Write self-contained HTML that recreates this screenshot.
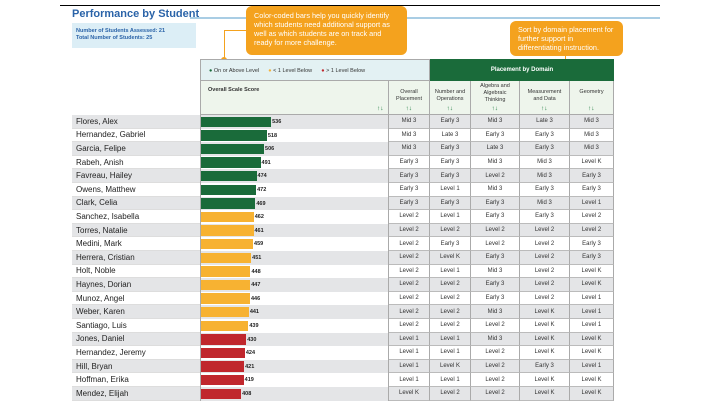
<!DOCTYPE html>
<html><head><meta charset="utf-8">
<style>
body{margin:0;width:720px;height:405px;background:#fff;position:relative;overflow:hidden;font-family:"Liberation Sans",sans-serif;}
div{box-sizing:border-box;}
.a{position:absolute;}
.cell{position:absolute;font-size:6px;color:#333;text-align:center;border-right:1px solid #aaa;border-bottom:1px solid #bbb;display:flex;align-items:center;justify-content:center;}
.name{position:absolute;font-size:8px;color:#222;padding-left:4px;display:flex;align-items:center;}
.hd{position:absolute;font-size:5.5px;color:#333;text-align:center;border-right:1px solid #aaa;line-height:1.25;padding-top:6px;}
.arr{position:absolute;color:#1a7a3c;font-size:6.5px;font-weight:bold;}
</style></head><body>
<div class="a" style="left:60px;top:5px;width:600px;height:1px;background:#000"></div>
<div class="a" style="left:72px;top:8px;font-size:11px;font-weight:bold;color:#2a63a8">Performance by Student</div>
<div class="a" style="left:190px;top:17px;width:470px;height:2px;background:#a9cde4"></div>
<div class="a" style="left:72px;top:23px;width:124px;height:25px;background:#dceef6;color:#2a63a8;font-size:5.5px;font-weight:bold;padding:5px 4px;line-height:1.3">Number of Students Assessed: 21<br>Total Number of Students: 25</div>
<div class="a" style="left:246px;top:6px;width:161px;height:49px;background:#f4a21e;border-radius:6px;color:#fff;font-size:7.3px;padding:5px 8px;line-height:9px">Color-coded bars help you quickly identify which students need additional support as well as which students are on track and ready for more challenge.</div>
<div class="a" style="left:225px;top:30px;width:22px;height:1px;background:#f4a21e"></div>
<div class="a" style="left:224px;top:30px;width:1px;height:30px;background:#f4a21e"></div>
<div class="a" style="left:221px;top:57px;width:6px;height:6px;border-radius:3px;background:#f4a21e"></div>
<div class="a" style="left:510px;top:21px;width:113px;height:35px;background:#f4a21e;border-radius:6px;color:#fff;font-size:7.3px;padding:4px 8px;line-height:9px">Sort by domain placement for further support in differentiating instruction.</div>
<div class="a" style="left:565px;top:56px;width:1px;height:27px;background:#f4a21e"></div>
<div class="a" style="left:562px;top:81px;width:6px;height:6px;border-radius:3px;background:#f4a21e"></div>
<div class="a" style="left:200px;top:59px;width:230px;height:22px;background:#e3f1f3;border:1px solid #aaa;font-size:5.5px;color:#333;padding-top:8px;padding-left:8px">
<span style="color:#1a6b3a">●</span> On or Above Level &nbsp;&nbsp;&nbsp;&nbsp; <span style="color:#f4b23a">●</span> &lt; 1 Level Below &nbsp;&nbsp;&nbsp;&nbsp; <span style="color:#c0272d">●</span> &gt; 1 Level Below</div>
<div class="a" style="left:430px;top:59px;width:184px;height:22px;background:#1a6b3a;color:#fff;font-size:6px;font-weight:bold;text-align:center;padding-top:8px">Placement by Domain</div>
<div class="a" style="left:200px;top:81px;width:414px;height:34px;background:#eef5ec;border-left:1px solid #aaa;border-bottom:1px solid #aaa"></div>
<div id="tbl"></div>
<script>
const names=["Flores, Alex","Hernandez, Gabriel","Garcia, Felipe","Rabeh, Anish","Favreau, Hailey","Owens, Matthew","Clark, Celia","Sanchez, Isabella","Torres, Natalie","Medini, Mark","Herrera, Cristian","Holt, Noble","Haynes, Dorian","Munoz, Angel","Weber, Karen","Santiago, Luis","Jones, Daniel","Hernandez, Jeremy","Hill, Bryan","Hoffman, Erika","Mendez, Elijah"];
const scores=[536,518,506,491,474,472,469,462,461,459,451,448,447,446,441,439,430,424,421,419,408];
const levels=["on","on","on","on","on","on","on","mid","mid","mid","mid","mid","mid","mid","mid","mid","low","low","low","low","low"];
const overall=["Mid 3","Mid 3","Mid 3","Early 3","Early 3","Early 3","Early 3","Level 2","Level 2","Level 2","Level 2","Level 2","Level 2","Level 2","Level 2","Level 2","Level 1","Level 1","Level 1","Level 1","Level K"];
const numOps=["Early 3","Late 3","Early 3","Early 3","Early 3","Level 1","Early 3","Level 1","Level 2","Early 3","Level K","Level 1","Level 2","Level 2","Level 2","Level 2","Level 1","Level 1","Level K","Level 1","Level 2"];
const algebra=["Mid 3","Early 3","Late 3","Mid 3","Level 2","Mid 3","Early 3","Early 3","Level 2","Level 2","Early 3","Mid 3","Early 3","Early 3","Mid 3","Level 2","Mid 3","Level 2","Level 2","Level 2","Level 2"];
const measure=["Late 3","Early 3","Early 3","Mid 3","Mid 3","Early 3","Mid 3","Early 3","Level 2","Level 2","Level 2","Level 2","Level 2","Level 2","Level K","Level K","Level K","Level K","Early 3","Level K","Level K"];
const geometry=["Mid 3","Mid 3","Mid 3","Level K","Early 3","Early 3","Level 1","Level 2","Level 2","Early 3","Early 3","Level K","Level K","Level 1","Level 1","Level 1","Level K","Level K","Level 1","Level K","Level K"];
const headers=["Overall Placement","Number and Operations","Algebra and Algebraic Thinking","Measurement and Data","Geometry"];
const colors={on:"#1a6b3a",mid:"#f7b232",low:"#c0272d"};
const x0=201,top0=115,rh=13.6;
const xScale=v=>(v-237)*0.2344;
const cols=[[389,41],[430,41],[471,49],[520,50],[570,44]];
const T=document.getElementById('tbl');
function mk(cls,st,txt){const d=document.createElement('div');d.className=cls;d.style.cssText=st;if(txt!=null)d.textContent=txt;T.appendChild(d);return d;}
let h=mk('hd','left:200px;top:81px;width:189px;height:34px;text-align:left;padding-left:8px;font-weight:bold','Overall Scale Score');


let s=mk('arr','left:377px;top:105px','↑↓');


headers.forEach((t,i)=>{const [x,w]=cols[i];
 const e=mk('hd',`left:${x}px;top:81px;width:${w}px;height:34px;`,t);
 
 
 if(i==0){e.style.padding='8px 6px 0';}else if(i==2){e.style.padding='2px 6px 0';}else{e.style.padding='8px 4px 0';}
 const a=mk('arr',`left:${x+w/2-4}px;top:105px`,'↑↓');
 
 
});
const pc=[overall,numOps,algebra,measure,geometry];
names.forEach((n,i)=>{const y=top0+i*rh;const bg=i%2==0?'#e4e5e7':'#fff';
 const nm=mk('name',`left:72px;top:${y}px;width:128px;height:${rh}px;background:${bg};border-bottom:1px solid #ddd`,n);
 
 
 const sc=mk('a',`left:200px;top:${y}px;width:189px;height:${rh}px;background:${bg};border-left:1px solid #aaa;border-right:1px solid #aaa`);
 
 
 const w=xScale(scores[i]);
 const b=mk('a',`left:${x0}px;top:${y+1.5}px;width:${w}px;height:${rh-3}px;background:${colors[levels[i]]}`);
 
 
 const l=mk('a',`left:${x0+w+1}px;top:${y+4}px;font-size:5.5px;font-weight:bold;color:#222`,scores[i]);
 
 
 pc.forEach((arr,j)=>{const [x,wd]=cols[j];
  const c=mk('cell',`left:${x}px;top:${y}px;width:${wd}px;height:${rh}px;background:${bg}`,arr[i]);
  
  
 });
});
</script>
</body></html>
